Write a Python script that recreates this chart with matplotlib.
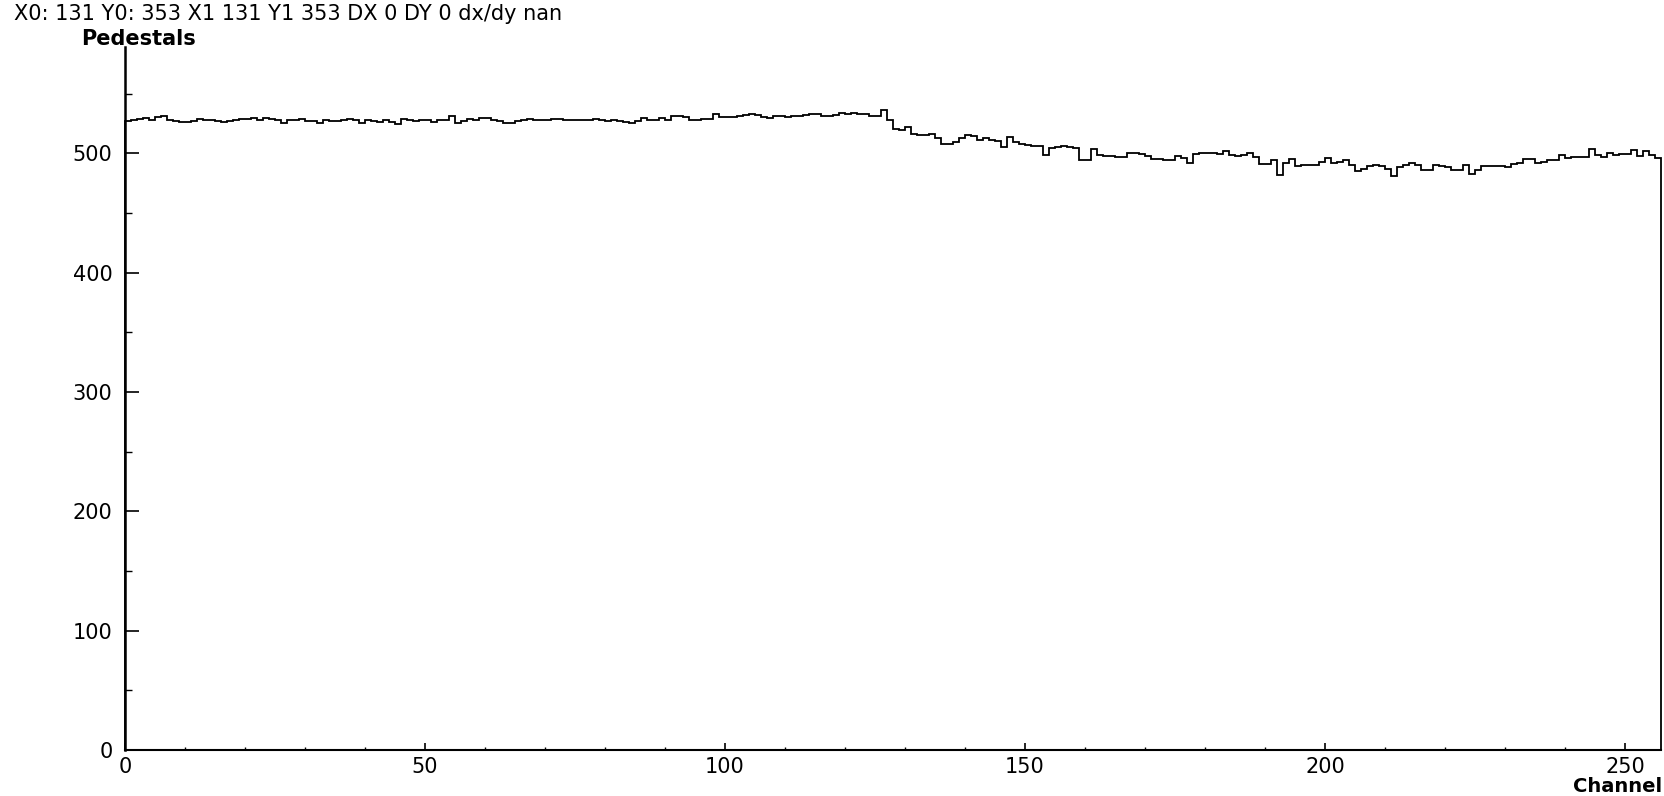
import numpy as np
import matplotlib
matplotlib.use("Agg")
import matplotlib.pyplot as plt
from matplotlib.ticker import MultipleLocator

# pedestal value per channel
pedestals = [
    527, 527.5, 528.5, 529.5, 528, 530.5, 531, 528, 527, 526.5, 526.5, 527, 528.5,
    528, 527.5, 527, 526, 527, 527.5, 528.5, 529, 529.5, 527.5, 529.5, 528.5,
    528, 525.5, 528, 527.5, 528.5, 527, 527, 525.5, 527.5, 527, 527, 528, 529,
    527.5, 525.5, 528, 527, 526, 527.5, 526, 524.5, 528.5, 528, 527, 528,
    528, 526.5, 528, 528, 531, 525, 527, 528.5, 527.5, 529.5, 529.5, 528, 527,
    525, 525.5, 527, 527.5, 528.5, 528, 527.5, 528, 528.5, 528.5, 528, 528, 528,
    528, 527.5, 528.5, 528, 527, 528, 527, 526, 525.5, 527, 529.5, 528, 527.5,
    529.5, 527.5, 531, 531, 530, 527.5, 528, 528.5, 529, 532.5, 530, 530.5, 530.5,
    531.5, 532, 532.5, 532, 530.5, 529.5, 531, 531, 530.5, 531, 531.5, 532, 532.5,
    532.5, 531.5, 531, 532, 534, 532.5, 534, 533, 532.5, 531.5, 531.5, 536, 527.5,
    520, 519.5, 522, 516.5, 515.5, 515, 516.5, 512.5, 507.5, 507.5, 509.5, 513,
    515.5, 514.5, 511, 512.5, 511.5, 510.5, 505, 513.5, 509.5, 508, 506.5, 506, 506, 498.5,
    504.5, 505.5, 506, 505, 504, 494.5, 494.5, 503.5, 498.5, 498, 498, 496.5, 496.5,
    500.5, 500, 499, 497.5, 495.5, 495.5, 494.5, 494.5, 497.5, 496, 491.5, 499, 500,
    500, 500.5, 499, 501.5, 498.5, 498, 498.5, 500.5, 497, 491, 491, 494, 482,
    491.5, 495, 489, 490, 490, 490.5, 493, 496, 492, 493, 494, 490,
    485, 487, 489, 490.5, 489, 486.5, 481, 488.5, 490.5, 492, 490, 486, 486,
    490, 489, 488.5, 486, 486, 490, 482.5, 486, 489, 489, 489, 489, 488.5,
    491, 492, 495.5, 495, 491.5, 492.5, 494.5, 494.5, 498.5, 496, 497, 497, 497,
    503.5, 498.5, 497, 500.5, 498.5, 499, 499, 502.5, 498, 501.5, 498.5, 496,
]
n_channels = 256
y_top = 589
status = "X0: 131 Y0: 353 X1 131 Y1 353 DX 0 DY 0 dx/dy nan"

plt.rcParams['font.family'] = ['DejaVu Sans']

fig = plt.figure(figsize=(16.64, 7.96), dpi=100)
ax = fig.add_axes([125 / 1664, 1 - 750 / 796, 1536 / 1664, 703 / 796])

edges = np.arange(n_channels + 1)
ax.stairs(pedestals, edges, baseline=0, color="black", lw=1.3, clip_on=False)

ax.set_xlim(0, n_channels)
ax.set_ylim(0, y_top)
ax.spines["top"].set_visible(False)
ax.spines["right"].set_visible(False)
ax.spines["left"].set_linewidth(1.8)
ax.spines["bottom"].set_linewidth(1.5)

ax.xaxis.set_major_locator(MultipleLocator(50))
ax.xaxis.set_minor_locator(MultipleLocator(10))
ax.yaxis.set_major_locator(MultipleLocator(100))
ax.yaxis.set_minor_locator(MultipleLocator(50))
ax.tick_params(axis="y", which="major", direction="in", length=10, width=1.2, labelsize=15, pad=9)
ax.tick_params(axis="y", which="minor", direction="in", length=5, width=1.0)
ax.tick_params(axis="x", which="major", direction="in", length=5, width=1.2, labelsize=15, pad=5)
ax.tick_params(axis="x", which="minor", direction="in", length=2.5, width=1.0)

fig.text(14 / 1664, 1 - 14 / 796, status, fontsize=15, ha="left", va="center")
fig.text(81 / 1664, 1 - 39 / 796, "Pedestals", fontsize=15, fontweight="bold", ha="left", va="center")
fig.text(1662 / 1664, 1 - 786 / 796, "Channel", fontsize=14, fontweight="bold", ha="right", va="center")

fig.savefig("out.png", dpi=100)
